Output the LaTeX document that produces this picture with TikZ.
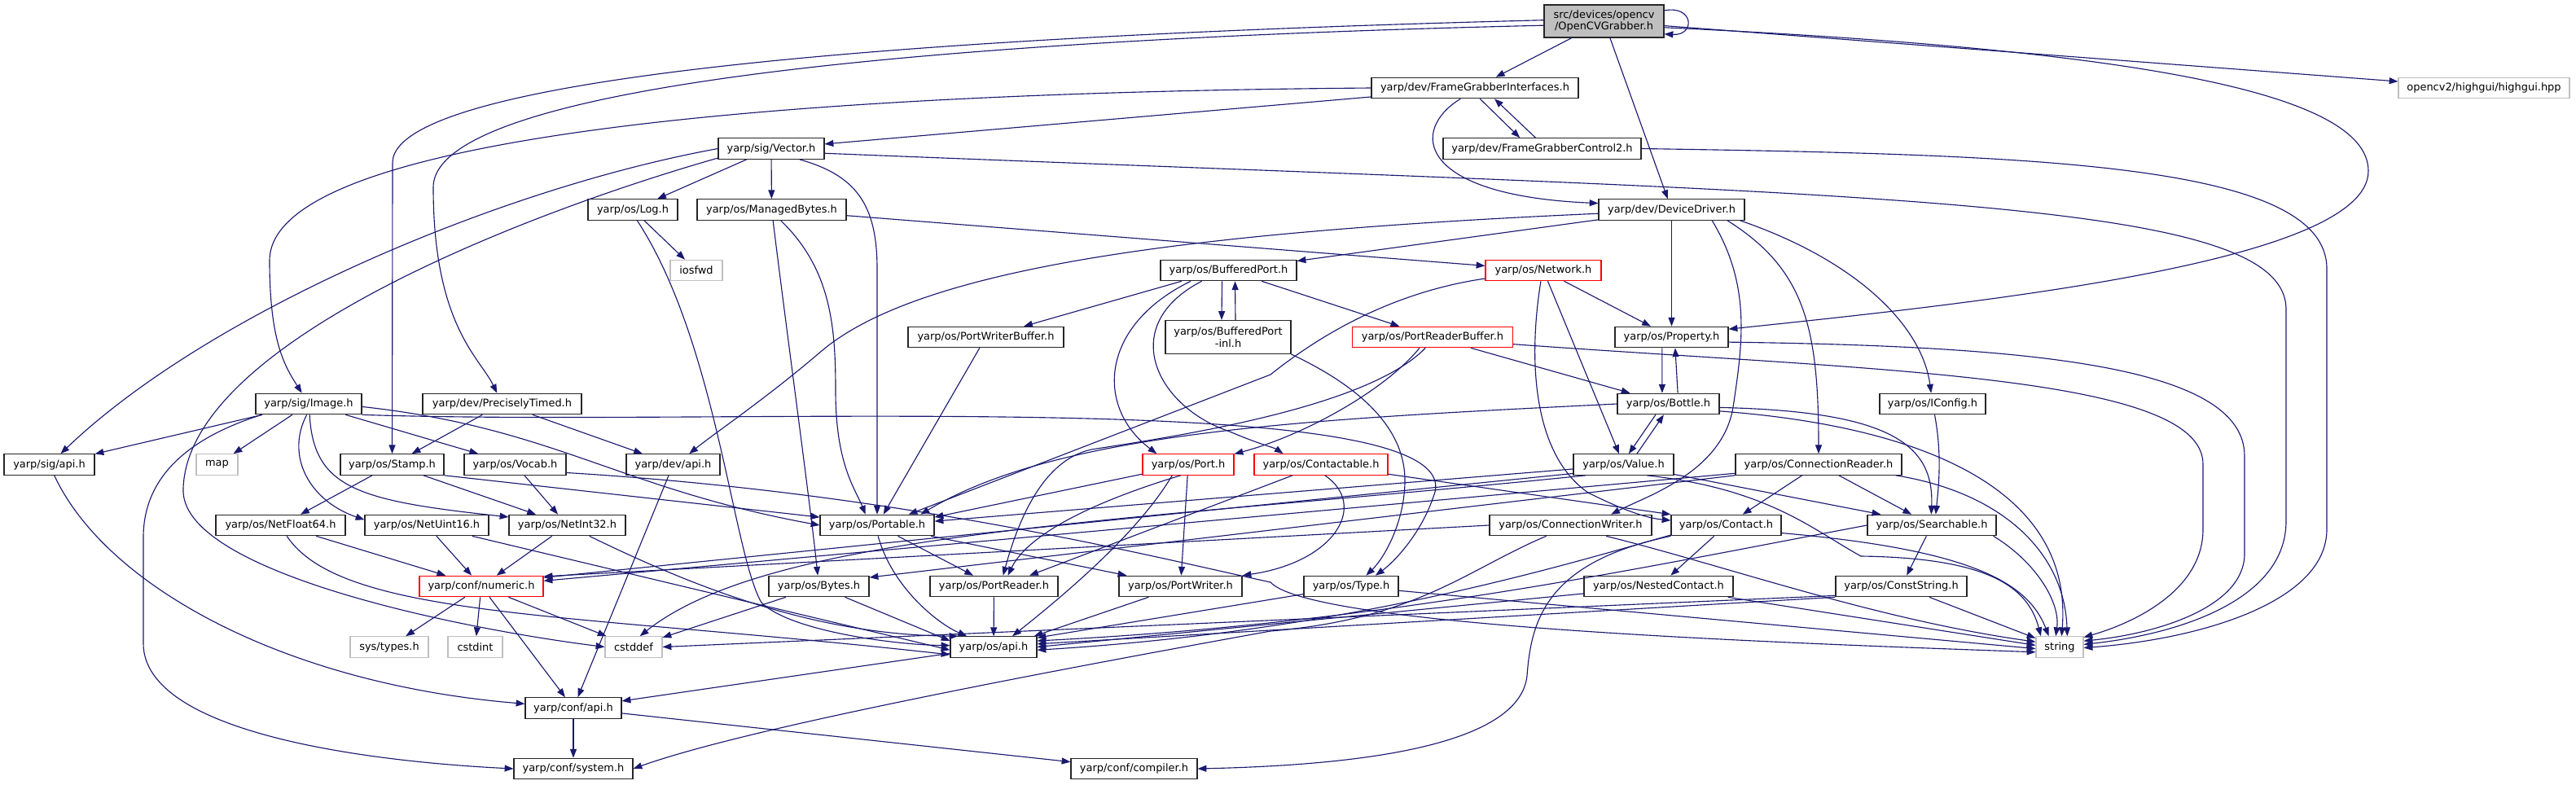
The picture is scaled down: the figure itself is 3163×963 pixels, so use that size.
\documentclass[tikz,border=0pt]{standalone}
\usepackage{fontspec}
\setmainfont{DejaVu Sans}
\usetikzlibrary{arrows.meta}
\definecolor{eb}{HTML}{191970}
\definecolor{gr}{HTML}{BFBFBF}
\begin{document}
\begin{tikzpicture}[x=0.025cm,y=-0.025cm,
 box/.style={draw=black!85, line width=0.8pt, fill=white, inner sep=0pt, minimum height=0.6375cm, font=\fontsize{9.2}{10.4}\selectfont, align=center},
 rbox/.style={box, draw=red},
 xbox/.style={box, draw=gr},
 gbox/.style={box, fill=gr},
 e/.style={draw=eb, line width=0.8pt, -{Triangle[length=0.27cm,width=0.2cm]}}]
\fill[white] (0,0) rectangle (3163,963);
\useasboundingbox (0,0) rectangle (3163,963);
% nodes
\node[gbox, minimum width=147*0.025cm, minimum height=1cm] (ocv) at (1969.5,26) {src/devices/opencv\\/OpenCVGrabber.h};
\node[box, minimum width=254*0.025cm] (fgi) at (1811,108) {yarp/dev/FrameGrabberInterfaces.h};
\node[xbox, minimum width=210*0.025cm] (hg) at (3050,108) {opencv2/highgui/highgui.hpp};
\node[box, minimum width=130*0.025cm] (vec) at (947,182.5) {yarp/sig/Vector.h};
\node[box, minimum width=243*0.025cm] (fgc) at (1893.5,182.5) {yarp/dev/FrameGrabberControl2.h};
\node[box, minimum width=110*0.025cm] (log) at (777,257.5) {yarp/os/Log.h};
\node[box, minimum width=183*0.025cm] (mb) at (947.5,257.5) {yarp/os/ManagedBytes.h};
\node[box, minimum width=179*0.025cm] (dd) at (2052.5,257.5) {yarp/dev/DeviceDriver.h};
\node[xbox, minimum width=64*0.025cm] (iosfwd) at (855,332) {iosfwd};
\node[box, minimum width=167*0.025cm] (bp) at (1508.5,332) {yarp/os/BufferedPort.h};
\node[rbox, minimum width=142*0.025cm] (net) at (1895,332) {yarp/os/Network.h};
\node[box, minimum width=191*0.025cm] (pwb) at (1210.5,414) {yarp/os/PortWriterBuffer.h};
\node[box, minimum width=154*0.025cm, minimum height=41*0.025cm] (bpi) at (1508,414) {yarp/os/BufferedPort\\-inl.h};
\node[rbox, minimum width=197*0.025cm] (prb) at (1759,414) {yarp/os/PortReaderBuffer.h};
\node[box, minimum width=139*0.025cm] (prop) at (2052.5,414) {yarp/os/Property.h};
\node[box, minimum width=130*0.025cm] (img) at (379,496) {yarp/sig/Image.h};
\node[box, minimum width=195*0.025cm] (ptim) at (616.5,496) {yarp/dev/PreciselyTimed.h};
\node[box, minimum width=125*0.025cm] (bot) at (2048.5,496) {yarp/os/Bottle.h};
\node[box, minimum width=130*0.025cm] (icfg) at (2373,496) {yarp/os/IConfig.h};
\node[box, minimum width=111*0.025cm] (sapi) at (60.5,570.5) {yarp/sig/api.h};
\node[xbox, minimum width=51*0.025cm] (map) at (266.5,570.5) {map};
\node[box, minimum width=127*0.025cm] (stamp) at (481.5,570.5) {yarp/os/Stamp.h};
\node[box, minimum width=125*0.025cm] (vocab) at (632.5,570.5) {yarp/os/Vocab.h};
\node[box, minimum width=115*0.025cm] (dapi) at (826.5,570.5) {yarp/dev/api.h};
\node[rbox, minimum width=112*0.025cm] (port) at (1459,570.5) {yarp/os/Port.h};
\node[rbox, minimum width=164*0.025cm] (ctb) at (1622,570.5) {yarp/os/Contactable.h};
\node[box, minimum width=123*0.025cm] (val) at (1993.5,570.5) {yarp/os/Value.h};
\node[box, minimum width=204*0.025cm] (cr) at (2233,570.5) {yarp/os/ConnectionReader.h};
\node[box, minimum width=159*0.025cm] (nf) at (344.5,645) {yarp/os/NetFloat64.h};
\node[box, minimum width=152*0.025cm] (nu) at (524,645) {yarp/os/NetUint16.h};
\node[box, minimum width=143*0.025cm] (ni) at (696.5,645) {yarp/os/NetInt32.h};
\node[box, minimum width=140*0.025cm] (ptb) at (1077,645) {yarp/os/Portable.h};
\node[box, minimum width=199*0.025cm] (cw) at (1928.5,645) {yarp/os/ConnectionWriter.h};
\node[box, minimum width=135*0.025cm] (ct) at (2119.5,645) {yarp/os/Contact.h};
\node[box, minimum width=158*0.025cm] (srch) at (2372,645) {yarp/os/Searchable.h};
\node[rbox, minimum width=152*0.025cm] (num) at (591,720) {yarp/conf/numeric.h};
\node[box, minimum width=123*0.025cm] (bytes) at (1005.5,720) {yarp/os/Bytes.h};
\node[box, minimum width=157*0.025cm] (prd) at (1220.5,720) {yarp/os/PortReader.h};
\node[box, minimum width=151*0.025cm] (pwr) at (1449.5,720) {yarp/os/PortWriter.h};
\node[box, minimum width=116*0.025cm] (type) at (1659,720) {yarp/os/Type.h};
\node[box, minimum width=183*0.025cm] (nc) at (2036.5,720) {yarp/os/NestedContact.h};
\node[box, minimum width=161*0.025cm] (cs) at (2334.5,720) {yarp/os/ConstString.h};
\node[xbox, minimum width=96*0.025cm] (systypes) at (478,794.5) {sys/types.h};
\node[xbox, minimum width=67*0.025cm] (cstdint) at (583.5,794.5) {cstdint};
\node[xbox, minimum width=70*0.025cm] (cstddef) at (778,794.5) {cstddef};
\node[box, minimum width=106*0.025cm] (osapi) at (1220,794.5) {yarp/os/api.h};
\node[xbox, minimum width=58*0.025cm] (str) at (2529,794.5) {string};
\node[box, minimum width=118*0.025cm] (capi) at (704,869.5) {yarp/conf/api.h};
\node[box, minimum width=146*0.025cm] (sys) at (704,944) {yarp/conf/system.h};
\node[box, minimum width=155*0.025cm] (comp) at (1392.5,944) {yarp/conf/compiler.h};
% OCV
\draw[e] (ocv) -- (fgi);
\draw[e] (ocv) -- (dd);
\draw[e] (ocv) -- (hg);
\draw[e] (ocv.10) .. controls (2080,6) and (2082,44) .. (ocv.-12);
\draw[e] (ocv.-6) .. controls (2600,60) and (2908,110) .. (2908,210) .. controls (2908,320) and (2450,370) .. (prop.8);
\draw[e] (ocv.179) .. controls (1300,40) and (482,80) .. (482,200) -- (stamp);
\draw[e] (ocv.184) .. controls (1300,45) and (532,90) .. (532,230) .. controls (532,400) and (590,440) .. (ptim);
% FGI
\draw[e] (fgi.west) .. controls (1200,112) and (331,140) .. (331,320) .. controls (331,420) and (350,450) .. (img);
\draw[e] (fgi) -- (vec);
\draw[e] (fgi.-65) -- (fgc.154);
\draw[e] (fgc.121) -- (fgi.-29);
\draw[e] (fgi.-143) .. controls (1730,160) and (1740,240) .. (dd.175);
\draw[e] (fgc.east) .. controls (2500,190) and (2857,200) .. (2857,330) -- (2857,650) .. controls (2857,740) and (2700,785) .. (str.-2);
% Vector
\draw[e] (vec) -- (log);
\draw[e] (vec) -- (mb);
\draw[e] (vec.-5) .. controls (2300,240) and (2807,240) .. (2807,380) -- (2807,640) .. controls (2807,735) and (2680,778) .. (str.6);
\draw[e] (vec.west) .. controls (620,230) and (260,380) .. (sapi);
\draw[e] (vec.190) .. controls (650,260) and (230,420) .. (225,600) .. controls (220,700) and (550,770) .. (cstddef.west);
\draw[e] (vec.-21) .. controls (1050,215) and (1077,250) .. (1077,330) -- (ptb);
% Log
\draw[e] (log) -- (iosfwd);
\draw[e] (log.-68) .. controls (880,420) and (900,680) .. (935,740) .. controls (970,775) and (1100,792) .. (osapi.178);
% ManagedBytes
\draw[e] (mb) -- (net);
\draw[e] (mb) .. controls (965,400) and (995,620) .. (bytes);
\draw[e] (mb.-50) .. controls (1020,330) and (1026,400) .. (1026,480) .. controls (1026,570) and (1050,600) .. (ptb.137);
% DeviceDriver
\draw[e] (dd) -- (bp);
\draw[e] (dd) -- (prop);
\draw[e] (dd.183) .. controls (1450,285) and (1130,330) .. (1010,430) .. controls (940,490) and (880,530) .. (dapi.34);
\draw[e] (dd.-15) .. controls (2150,350) and (2140,420) .. (2128,500) .. controls (2115,580) and (2020,610) .. (cw.15);
\draw[e] (dd.-11) .. controls (2215,330) and (2233,400) .. (cr);
\draw[e] (dd.-9) .. controls (2280,320) and (2360,400) .. (icfg);
% BufferedPort
\draw[e] (bp.-167) -- (pwb);
\draw[e] ([xshift=-0.2cm]bp.south) -- ([xshift=-0.2cm]bpi.north);
\draw[e] ([xshift=0.225cm]bpi.north) -- ([xshift=0.2cm]bp.south);
\draw[e] (bp) -- (prb);
\draw[e] (bp.-164) .. controls (1350,400) and (1345,500) .. (port.161);
\draw[e] (bp.-158) .. controls (1370,400) and (1420,500) .. (1510,530) .. controls (1545,545) and (1565,550) .. (ctb.164);
\draw[e] (bpi.south east) .. controls (1660,470) and (1725,520) .. (1725,590) .. controls (1725,640) and (1700,685) .. (type.36);
% Network
\draw[e] (net) -- (prop);
\draw[e] (net.-172) .. controls (1700,360) and (1610,420) .. (1560,460) -- (ptb.19);
\draw[e] (net.-103) .. controls (1875,450) and (1885,560) .. (1950,605) .. controls (1990,625) and (2020,636) .. (ct.175);
\draw[e] (net) -- (val);
% Property / Bottle
\draw[e] ([xshift=-0.29cm]prop.south) -- ([xshift=-0.19cm]bot.north);
\draw[e] ([xshift=0.29cm]bot.north) -- ([xshift=0.11cm]prop.south);
\draw[e] (prop.-5) .. controls (2500,425) and (2756,450) .. (2756,560) -- (2756,680) .. controls (2756,745) and (2650,778) .. (str.14);
% PortReaderBuffer
\draw[e] (prb) -- (bot);
\draw[e] (prb.-5) .. controls (2300,455) and (2705,460) .. (2705,570) -- (2705,650) .. controls (2705,725) and (2620,765) .. (str.22);
\draw[e] ([xshift=-0.4cm]prb.south) .. controls (1700,480) and (1600,535) .. (port.13);
\draw[e] ([xshift=-0.22cm]prb.south) .. controls (1680,500) and (1450,535) .. (1340,552) .. controls (1280,565) and (1250,640) .. (prd.50);
\draw[e] (pwb) -- (ptb);
% Bottle
\draw[e] ([xshift=-0.39cm]bot.south) -- ([xshift=0.16cm]val.north);
\draw[e] ([xshift=0.41cm]val.north) -- ([xshift=-0.14cm]bot.south);
\draw[e] (bot.west) .. controls (1600,515) and (1300,530) .. (ptb.14);
\draw[e] (bot.-4) .. controls (2320,505) and (2375,545) .. (srch.93);
\draw[e] (bot.-8) .. controls (2380,525) and (2545,610) .. (str.80);
% Value
\draw[e] (val) -- (srch.168);
\draw[e] (val.-25) .. controls (2170,600) and (2225,650) .. (2285,683) .. controls (2440,685) and (2490,720) .. (str.150);
\draw[e] (val.185) -- (ptb.4);
\draw[e] (val.190) -- (num.8);
\draw[e] (val.196) .. controls (1400,640) and (950,650) .. (cstddef.60);
% ConnectionReader
\draw[e] (cr) -- (ct);
\draw[e] (cr) -- (srch);
\draw[e] (cr.-8) .. controls (2460,605) and (2535,680) .. (str.55);
\draw[e] (cr.186) -- (num.5);
\draw[e] (cr.south west) -- (bytes.10);
% ConnectionWriter
\draw[e] (cw.west) -- (num.9);
\draw[e] (cw.-17) .. controls (2120,695) and (2300,760) .. (str.168);
\draw[e] (cw.-156) .. controls (1800,700) and (1740,760) .. (1560,775) .. controls (1200,840) and (900,900) .. (sys.east);
% Contact
\draw[e] (ct) -- (nc);
\draw[e] (ct.190) .. controls (1900,700) and (1650,775) .. (osapi.-4);
\draw[e] (ct.-8) .. controls (2420,675) and (2490,715) .. (str.135);
\draw[e] (ct.south west) .. controls (1900,690) and (1880,760) .. (1875,830) .. controls (1865,920) and (1650,940) .. (comp.east);
% NestedContact
\draw[e] (nc) -- (osapi.east);
\draw[e] (nc) -- (str.176);
% Searchable
\draw[e] (srch) -- (cs);
\draw[e] (srch.-10) .. controls (2500,690) and (2530,740) .. (str.110);
\draw[e] (srch.west) .. controls (2000,700) and (1700,765) .. (osapi.8);
% ConstString
\draw[e] (cs) -- (str.160);
\draw[e] (cs.south west) -- (osapi.4);
\draw[e] (cs.188) -- (cstddef.east);
% Type
\draw[e] (type) -- (osapi.12);
\draw[e] (type) -- (str.184);
% Vocab
\draw[e] (vocab) -- (ni);
\draw[e] (vocab.-9) .. controls (1100,605) and (1400,680) .. (1560,715) .. controls (1610,770) and (2200,790) .. (str.192);
% Stamp
\draw[e] (stamp) -- (nf);
\draw[e] (stamp) -- (ni);
\draw[e] (stamp.south east) -- (ptb.172);
% PreciselyTimed
\draw[e] (ptim) -- (stamp);
\draw[e] (ptim) -- (dapi);
% Image
\draw[e] (img) -- (sapi);
\draw[e] (img) -- (map);
\draw[e] (img.-167) .. controls (240,535) and (176,580) .. (176,660) -- (176,790) .. controls (176,900) and (450,935) .. (sys.west);
\draw[e] (img.-100) .. controls (350,560) and (380,615) .. (nu.175);
\draw[e] (img.-85) .. controls (385,600) and (440,615) .. (ni.172);
\draw[e] (img) -- (vocab);
\draw[e] (img.-3) .. controls (680,525) and (760,600) .. (ptb.west);
\draw[e] (img.south east) .. controls (900,525) and (1820,470) .. (1760,610) .. controls (1745,655) and (1712,690) .. (type.24);
% Portable & co
\draw[e] (ptb) -- (prd);
\draw[e] (ptb) -- (pwr);
\draw[e] (ptb.-85) .. controls (1095,720) and (1150,765) .. (osapi.158);
\draw[e] (prd) -- (osapi);
\draw[e] (pwr) -- (osapi.15);
\draw[e] (port) -- (ptb.8);
\draw[e] (port.-125) .. controls (1330,620) and (1260,660) .. (prd.38);
\draw[e] (port) -- (pwr);
\draw[e] (port.-146) .. controls (1400,650) and (1320,720) .. (osapi.30);
\draw[e] (ctb) -- (prd.17);
\draw[e] (ctb.-70) .. controls (1680,620) and (1640,690) .. (pwr.north east);
\draw[e] (ctb) -- (ct.north west);
\draw[e] (bytes) -- (cstddef);
\draw[e] (bytes) -- (osapi.172);
% Net*
\draw[e] (nf) -- (num);
\draw[e] (nf.-60) .. controls (420,760) and (700,752) .. (osapi.190);
\draw[e] (nu) -- (num);
\draw[e] (nu) -- (osapi.184);
\draw[e] (ni) -- (num);
\draw[e] (ni) .. controls (850,720) and (1000,780) .. (osapi.163);
% numeric & conf
\draw[e] (num) -- (systypes);
\draw[e] (num) -- (cstdint);
\draw[e] (num) -- (cstddef);
\draw[e] (num) -- (capi);
\draw[e] (sapi) .. controls (130,720) and (350,840) .. (capi.175);
\draw[e] (dapi) -- (capi);
\draw[e] (osapi) -- (capi);
\draw[e] (capi) -- (sys);
\draw[e] (capi) -- (comp);
\draw[e] (icfg) .. controls (2385,560) and (2380,600) .. (srch.70);
\end{tikzpicture}
\end{document}
